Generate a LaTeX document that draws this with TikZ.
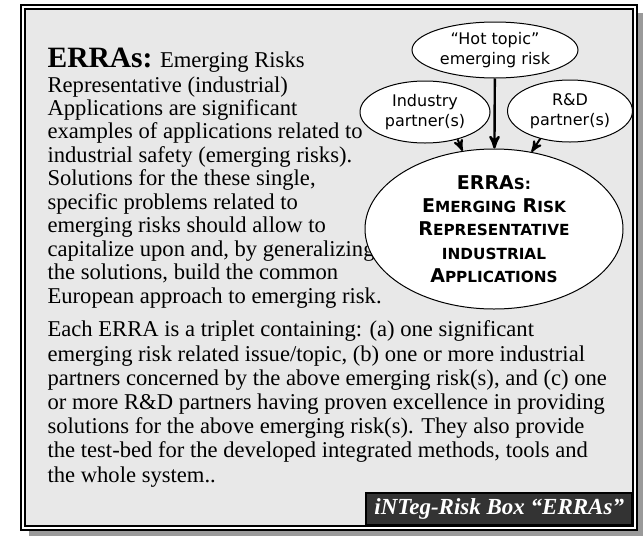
\documentclass[tikz,border=0pt]{standalone}
\usepackage{fontspec}
\setmainfont{Liberation Serif}
\newfontfamily\ellfont{DejaVu Sans}
\usetikzlibrary{arrows,shapes}
\definecolor{boxgray}{HTML}{E8E8E8}
\definecolor{tagdark}{HTML}{333333}
\definecolor{shadowgray}{HTML}{9A9A9A}
\newcommand{\capsc}[2]{{\fontsize{9.5}{11.7}\selectfont #1}{\fontsize{7.65}{11.7}\selectfont #2}}

\begin{document}
\begin{tikzpicture}[x=0.5pt,y=-0.5pt,->,>=stealth',semithick]
        \tikzstyle{topic}=[ellipse, draw, line width=0.5pt, fill=white, inner sep=0pt, align=center, font=\ellfont\fontsize{8}{9.8}\selectfont]
        \tikzstyle{para}=[anchor=base west, inner sep=0pt, align=left]

        \useasboundingbox (0,0) rectangle (643,536);
        \fill[shadowgray] (29,13) rectangle (643,536);
        \draw[-, fill=white, line width=1pt] (21,5) rectangle (637,530);
        \draw[-, fill=boxgray, line width=0.8pt] (25,9) rectangle (633,526);

        % multi-line nodes sit on the baseline of their last line
        \node[para, font=\fontsize{11.3}{11.72}\selectfont] (intro) at (47,303) {{\bfseries\fontsize{14.75}{14.75}\selectfont ERRAs:} Emerging Risks\\[0.8pt]
          Representative (industrial)\\ Applications are significant\\ examples of applications related to\\
          industrial safety (emerging risks).\\ Solutions for the these single,\\ specific problems related to\\
          emerging risks should allow to\\ capitalize upon and, by generalizing\\ the solutions, build the common\\
          European approach to emerging risk.};
        \node[para, font=\fontsize{11.3}{12.1}\selectfont] (triplet) at (47,482) {Each ERRA is a triplet containing: (a) one significant\\
          emerging risk related issue/topic, (b) one or more industrial\\ partners concerned by the above emerging risk(s), and (c) one\\
          or more R\&D partners having proven excellence in providing\\ solutions for the above emerging risk(s). They also provide\\
          the test-bed for the developed integrated methods, tools and\\ the whole system..};

        \node[draw, line width=0.8pt, fill=tagdark, text=white, minimum width=133pt, minimum height=16pt, inner sep=0pt, anchor=south east,
          font=\fontsize{11.5}{11.5}\selectfont\bfseries\itshape] (tag) at (633,526) {iNTeg-Risk Box “ERRAs”};

        \node[topic, minimum width=83pt, minimum height=28pt] (hot) at (495,50) {“Hot topic”\\emerging risk};
        \node[topic, minimum width=65pt, minimum height=31pt] (ind) at (425,112) {Industry\\partner(s)};
        \node[topic, minimum width=62.5pt, minimum height=31pt] (rnd) at (570,111) {R\&D\\partner(s)};
        \node[topic, minimum width=129pt, minimum height=80pt, font=\ellfont\bfseries\fontsize{9.5}{11.7}\selectfont] (erra) at (494,229)
          {\capsc{ERRA}{S:}\\ \capsc{E}{MERGING} \capsc{R}{ISK}\\ \capsc{R}{EPRESENTATIVE}\\ \capsc{}{INDUSTRIAL}\\ \capsc{A}{PPLICATIONS}};

        \draw[line width=1.2pt] (hot) -- (erra);
        \draw[line width=1pt] (ind.-40) -- (erra.112);
        \draw[line width=1pt] (rnd.223) -- (erra.64);
\end{tikzpicture}
\end{document}
